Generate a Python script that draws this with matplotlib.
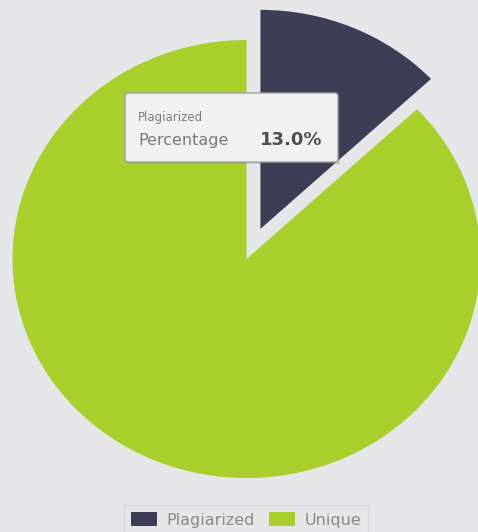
import matplotlib.pyplot as plt
from matplotlib.patches import Patch, FancyBboxPatch, Rectangle

labels = ["Plagiarized", "Unique"]
values = [13.0, 87.0]
colors = ["#3b3e54", "#a8cf2c"]
explode = [0.15, 0.0]

bg = "#e6e6e8"

fig = plt.figure(figsize=(4.78, 5.32), dpi=100)
fig.patch.set_facecolor(bg)

# pie axes: pixel geometry (photo is slightly squashed)
ax = fig.add_axes([0, 0, 1, 1])
ax.set_facecolor(bg)
ax.pie(values, colors=colors, explode=explode, startangle=90, counterclock=False,
       wedgeprops={'linewidth': 0})
ax.set_aspect('auto')
cx, cy, rx, ry = 246.5, 259, 234, 219
ax.set_xlim((0 - cx) / rx, (478 - cx) / rx)
ax.set_ylim((cy - 532) / ry, cy / ry)
ax.axis('off')

# overlay in pixel coordinates for the tooltip
ov = fig.add_axes([0, 0, 1, 1])
ov.set_xlim(0, 478)
ov.set_ylim(532, 0)
ov.axis('off')
ov.patch.set_alpha(0)

ov.add_patch(Rectangle((127, 95), 213, 69, facecolor="#555555", alpha=0.2,
                       linewidth=0))
ov.add_patch(FancyBboxPatch((125, 93), 213, 69, boxstyle="round,pad=0,rounding_size=3",
                            facecolor="#f1f1f1", edgecolor="#a0a0a0", linewidth=1))
ov.text(138, 117, "Plagiarized", fontsize=8.5, color="#7c7c7c", va='center', ha='left')
ov.text(138, 140, "Percentage", fontsize=11.5, color="#7a7a7a", va='center', ha='left')
ov.text(260, 140, f"{values[0]:.1f}%", fontsize=13, fontweight='bold', color="#4f4f52",
        va='center', ha='left')

handles = [Patch(facecolor=c, edgecolor='none', label=l) for c, l in zip(colors, labels)]
leg = fig.legend(handles=handles, loc='upper center', bbox_to_anchor=(0.515, 1 - 497 / 532),
                 ncol=2, frameon=True, fontsize=11.5, labelcolor="#8a8a8a",
                 handlelength=1.6, handleheight=1.0, columnspacing=0.9, handletextpad=0.6,
                 borderpad=0.45, fancybox=False)
leg.get_frame().set_facecolor(bg)
leg.get_frame().set_edgecolor("#d6d6d8")

plt.savefig("out.png", dpi=100, facecolor=bg)
